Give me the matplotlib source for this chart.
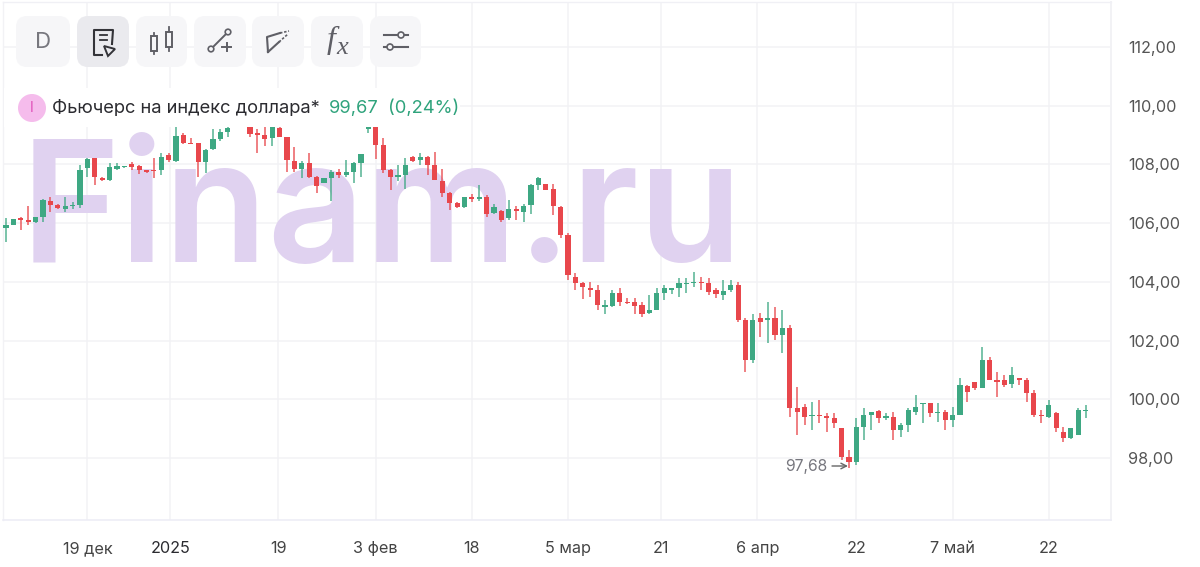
import matplotlib
matplotlib.use("Agg")
import matplotlib.pyplot as plt
from matplotlib.patches import FancyBboxPatch, Circle, Rectangle, Polygon

plt.rcParams['font.family'] = ['Inter', 'DejaVu Sans']

opens = [105.82,105.94,106.17,106.11,106.05,106.22,106.76,106.61,106.49,106.57,106.62,107.87,108.21,107.53,107.47,107.85,107.91,108.00,107.96,107.80,
107.80,107.81,108.32,108.13,109.00,108.73,108.72,108.09,108.51,108.87,109.11,109.35,109.80,109.70,109.06,109.00,108.89,109.23,108.92,108.12,
107.84,108.04,107.58,107.38,107.53,107.75,107.64,107.75,108.06,109.21,109.35,108.66,107.81,107.56,107.64,108.26,108.15,108.24,107.97,107.45,
107.02,106.67,106.56,106.90,106.81,106.90,106.33,106.42,106.16,106.49,106.39,106.62,107.30,107.33,107.16,106.56,105.60,104.18,103.95,103.79,
103.72,103.15,103.19,103.61,103.32,103.32,103.21,102.93,103.04,103.61,103.73,103.78,103.91,103.96,104.00,103.95,103.72,103.55,103.72,103.89,
102.70,101.34,102.76,102.70,102.76,102.19,102.42,99.69,99.73,99.42,99.46,99.43,99.35,99.01,98.05,97.88,99.07,99.46,99.61,99.37,
99.41,98.95,99.12,99.58,99.83,99.86,99.52,99.58,99.29,99.46,100.46,100.58,100.37,101.34,100.66,100.66,100.52,100.71,100.66,100.20,
99.46,99.41,99.52,98.90,98.67,98.78,99.59]
highs = [106.16,106.14,106.20,106.59,106.22,106.81,106.88,106.65,106.88,106.73,107.98,108.21,108.23,107.58,108.04,108.04,107.95,108.09,107.98,107.81,
108.21,108.38,108.38,109.40,109.06,108.89,108.74,108.51,109.19,109.19,109.40,109.80,110.00,109.80,109.19,109.40,109.60,109.40,108.95,108.58,
108.13,108.38,107.62,107.55,107.81,107.84,108.15,108.09,108.35,109.30,109.40,108.89,107.84,107.98,108.21,108.30,108.38,108.30,108.43,107.84,
107.07,106.71,106.90,106.99,107.30,106.96,106.65,106.45,106.79,106.58,106.65,107.33,107.56,107.33,107.33,106.59,105.65,104.29,104.00,104.00,
103.89,103.38,103.72,103.78,103.44,103.44,103.32,103.55,103.78,103.89,103.78,104.12,104.12,104.35,104.18,104.12,103.78,104.06,104.06,104.00,
102.76,102.90,102.93,103.32,103.15,103.04,102.53,100.43,99.84,99.92,99.98,99.52,99.52,99.01,98.27,99.35,99.69,99.58,99.63,99.52,
99.58,99.18,99.69,100.15,99.86,99.86,99.86,99.63,99.75,100.71,100.49,100.60,101.79,101.45,100.94,100.83,101.11,100.71,100.71,100.32,
99.63,99.98,99.58,99.07,99.01,99.69,99.81]
lows = [105.37,105.94,105.77,105.94,105.99,106.05,106.39,106.48,106.39,106.48,106.50,107.58,107.30,107.44,107.45,107.81,107.87,107.81,107.66,107.70,
107.53,107.64,108.09,108.09,108.68,108.68,107.58,107.70,108.49,108.78,108.94,109.30,109.35,108.95,108.40,108.63,108.63,108.92,107.73,107.75,
107.53,107.53,107.02,107.36,106.77,107.55,107.58,107.36,107.58,109.08,108.17,107.70,107.13,107.45,107.16,108.09,107.98,107.64,107.47,106.90,
106.45,106.50,106.50,106.73,106.77,106.20,106.31,106.05,106.11,106.11,106.05,106.31,107.13,107.13,106.28,105.48,104.06,103.72,103.42,103.50,
103.04,102.90,103.15,103.19,103.24,102.90,102.81,102.90,103.04,103.38,103.59,103.50,103.61,103.83,103.72,103.55,103.44,103.38,103.67,102.64,
100.94,101.22,102.13,101.91,102.02,101.56,99.41,98.78,99.12,98.95,99.18,98.90,99.01,97.93,97.65,97.76,98.61,98.95,99.18,99.29,
98.61,98.73,98.90,99.46,99.18,99.41,99.24,98.95,99.07,99.46,99.92,100.32,100.37,100.66,100.09,100.43,100.37,100.49,99.92,99.41,
99.18,99.35,98.90,98.56,98.64,98.78,99.35]
closes = [105.94,106.14,106.12,106.05,106.20,106.79,106.62,106.50,106.59,106.62,107.81,108.18,107.58,107.46,107.90,107.96,107.95,107.90,107.81,107.75,
107.76,108.24,108.15,108.97,108.72,108.71,108.09,108.49,108.87,109.09,109.24,109.60,109.50,109.04,109.00,108.87,109.40,108.95,108.15,107.84,
108.04,107.58,107.27,107.53,107.75,107.64,107.73,108.04,108.35,109.30,108.66,107.81,107.58,107.63,107.98,108.13,108.24,107.98,107.47,107.02,
106.67,106.54,106.88,106.81,106.90,106.31,106.56,106.11,106.49,106.41,106.59,107.29,107.53,107.13,106.58,105.60,104.23,103.95,103.83,103.73,
103.21,103.21,103.61,103.32,103.27,103.19,102.90,103.04,103.61,103.78,103.78,103.95,103.97,104.00,103.97,103.67,103.57,103.70,103.89,102.70,
101.34,102.70,102.64,102.76,102.19,102.42,99.69,99.58,99.41,99.46,99.42,99.36,99.18,98.05,97.88,99.07,99.46,99.58,99.35,99.43,
98.95,99.12,99.63,99.75,99.86,99.52,99.58,99.29,99.46,100.49,100.26,100.37,101.34,100.66,100.60,100.49,100.83,100.66,100.20,99.46,
99.42,99.81,99.01,98.67,99.01,99.63,99.63]

x_ticks = [11, 22.2, 36.8, 50, 63, 76, 88.6, 101.6, 115, 128, 141]
x_labels = ['19 дек', '2025', '19', '3 фев', '18', '5 мар', '21', '6 апр', '22', '7 май', '22']
y_ticks = [98, 100, 102, 104, 106, 108, 110, 112]
y_labels = ['98,00', '100,00', '102,00', '104,00', '106,00', '108,00', '110,00', '112,00']

GREEN = '#3EA883'
RED = '#E8474C'
W, H = 1200, 567

fig = plt.figure(figsize=(W / 100, H / 100), dpi=100, facecolor='white')
L, R, T, B = 3, 1111, 2, 520
ax = fig.add_axes([L / W, 1 - B / H, (R - L) / W, (B - T) / H])
ax.set_facecolor('white')
ax.set_xlim((L - 6) / 7.395, (R - 6) / 7.395)
ax.set_ylim(98 - (B - 458) / 29.36, 98 + (458 - T) / 29.36)
ax.set_axisbelow(True)
ax.grid(True, color='#F2F2F5', lw=1.1)

ax.text(21 / W, 1 - 262 / H, 'Finam.ru', transform=fig.transFigure, fontsize=122,
        color='#E0D2F0', ha='left', va='baseline', zorder=0.8, fontweight='semibold')

days = list(range(len(opens)))
colors = [GREEN if c >= o else RED for o, c in zip(opens, closes)]
ax.vlines(days, lows, highs, colors=colors, lw=1.3, alpha=0.75, zorder=3)
ax.bar(days, [abs(c - o) for o, c in zip(opens, closes)],
       bottom=[min(o, c) for o, c in zip(opens, closes)],
       width=0.7, color=colors, linewidth=0, zorder=4)

ax.yaxis.tick_right()
ax.set_yticks(y_ticks, y_labels)
ax.set_xticks(x_ticks, x_labels)
ax.tick_params(axis='y', length=0, pad=12.5, labelsize=11.7, labelcolor='#555555')
ax.tick_params(axis='x', length=0, pad=15, labelsize=11.7, labelcolor='#444444')
for s in ax.get_yticklabels():
    s.set_ha('left')
ax.get_xticklabels()[1].set_color('#2B2B30')
for side, col, lw in [('top', '#F0F0F5', 1.0), ('bottom', '#ECECF5', 1.1),
                      ('right', '#F2F2F5', 1.4), ('left', '#F2F2F5', 1.0)]:
    ax.spines[side].set_color(col)
    ax.spines[side].set_linewidth(lw)

# interface overlay in pixel coordinates
ui = fig.add_axes([0, 0, 1, 1], facecolor='none')
ui.set_xlim(0, W)
ui.set_ylim(H, 0)
ui.axis('off')

ui.add_patch(Rectangle((4, 88), 456, 39, fc='white', ec='none', zorder=1))

buttons = [(16, 70), (77, 129), (136, 187), (194, 246), (252, 304), (311, 363), (370, 421)]
for i, (x0, x1) in enumerate(buttons):
    ui.add_patch(FancyBboxPatch((x0 + 11, 27), x1 - x0 - 22, 29,
                                boxstyle='round,pad=11,rounding_size=11',
                                fc='#EAEAEE' if i == 1 else '#F6F6F8', ec='none', zorder=2))

IC = '#5F5F66'
ui.text(43, 42, 'D', fontsize=16, color='#77777E', ha='center', va='center', zorder=3)
# document / cursor
ui.plot([112, 113, 94, 94, 102], [44, 30, 30, 55, 55], color='#333338', lw=1.5, zorder=3)
ui.plot([100, 107], [35, 35], color='#333338', lw=1.3, zorder=3)
ui.plot([100, 107], [39.5, 39.5], color='#333338', lw=1.3, zorder=3)
ui.add_patch(Polygon([(104, 46), (115, 49), (108, 56)], closed=True, fc='none', ec='#333338', lw=1.4, zorder=3))
# candles
ui.add_patch(Rectangle((151, 36), 6, 15, fc='#F6F6F8', ec=IC, lw=1.4, zorder=3))
ui.add_patch(Rectangle((166, 32), 6, 15, fc='#F6F6F8', ec=IC, lw=1.4, zorder=3))
ui.plot([154, 154], [33, 54], color=IC, lw=1.3, zorder=2.9)
ui.plot([169, 169], [27, 51], color=IC, lw=1.3, zorder=2.9)
# line tool
ui.plot([211, 228], [49, 32], color=IC, lw=1.4, zorder=3)
ui.add_patch(Circle((228, 32), 2.8, fc='#F6F6F8', ec=IC, lw=1.2, zorder=3.1))
ui.add_patch(Circle((211, 49), 2.8, fc='#F6F6F8', ec=IC, lw=1.2, zorder=3.1))
ui.plot([222, 231], [47, 47], color=IC, lw=1.4, zorder=3)
ui.plot([226.5, 226.5], [43, 51], color=IC, lw=1.4, zorder=3)
# channel tool
ui.plot([268, 267, 280], [52, 37, 33], color=IC, lw=1.5, zorder=3)
ui.plot([268, 279], [52, 42], color=IC, lw=1.5, zorder=3)
ui.plot([280, 289], [33, 31], color=IC, lw=1.2, ls=(0, (1.5, 1)), zorder=3)
ui.plot([279, 288], [42, 34], color=IC, lw=1.2, ls=(0, (1.5, 1)), zorder=3)
# fx
ui.text(331, 40, 'f', family=['Liberation Serif'], style='italic', fontsize=23, color=IC,
        ha='center', va='center', zorder=3)
ui.text(342, 48, 'x', family=['Liberation Serif'], style='italic', fontsize=19, color=IC,
        ha='center', va='center', zorder=3)
# settings
for y, cx in [(35, 401), (47, 390)]:
    ui.plot([384, 408], [y, y], color=IC, lw=1.5, zorder=3)
    ui.add_patch(Circle((cx, y), 3, fc='#F6F6F8', ec=IC, lw=1.2, zorder=3.1))

# legend
ui.add_patch(Circle((32, 108), 14, fc='#F5BCEC', ec='none', zorder=3))
ui.text(32, 108, 'I', fontsize=10, color='#E04DB8', ha='center', va='center', zorder=4)
ui.text(52, 108, 'Фьючерс на индекс доллара*', fontsize=13.2, color='#2B2B30',
        ha='left', va='center', zorder=4)
ui.text(329, 108, '99,67', fontsize=13.2, color='#2FA37C', ha='left', va='center', zorder=4)
ui.text(388, 108, '(0,24%)', fontsize=13.2, color='#2FA37C', ha='left', va='center', zorder=4)

# low annotation
ui.text(785, 467, '97,68', fontsize=11.3, color='#77777E', ha='left', va='center', zorder=4)
ui.annotate('', xy=(848, 466), xytext=(832, 466),
            arrowprops=dict(arrowstyle='->', color='#666666', lw=1.0, shrinkA=0, shrinkB=0), zorder=4)

fig.savefig('out.png', dpi=100, facecolor='white')
